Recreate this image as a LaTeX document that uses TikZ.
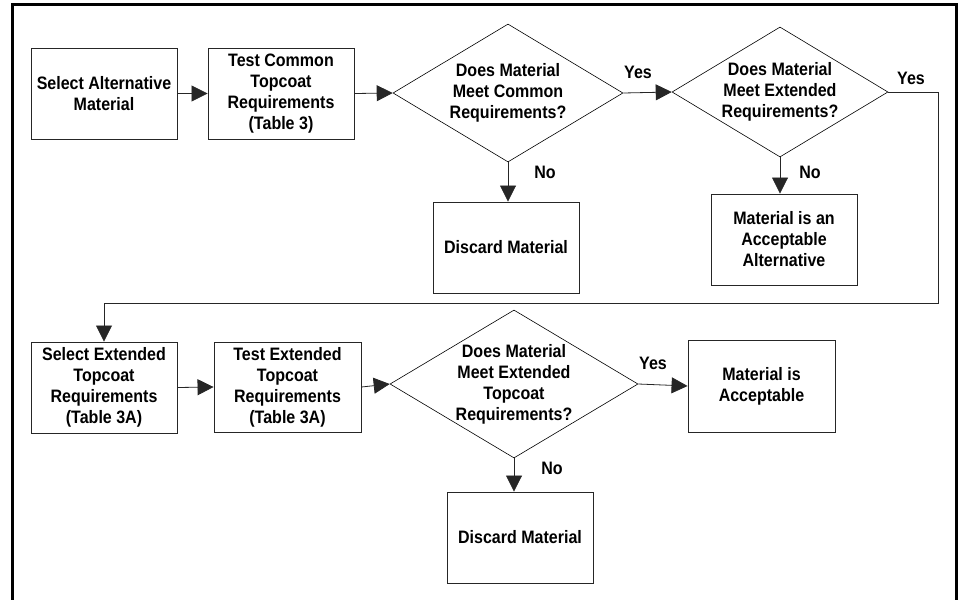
\documentclass[tikz,border=0pt]{standalone}
\usepackage{fontspec}
\setmainfont{Liberation Sans}[FakeStretch=0.89]
\usetikzlibrary{shapes.geometric,arrows.meta}
\begin{document}
\begin{tikzpicture}[x=1pt,y=-1pt,
  every node/.style={font=\fontsize{18}{21}\selectfont\bfseries, text=black},
  box/.style={draw=black!85, line width=0.9pt, rectangle, inner sep=0pt, align=center},
  dtext/.style={align=center, inner sep=0pt},
  lbl/.style={inner sep=0pt},
  conn/.style={draw=black!85, line width=0.8pt, -{Triangle[length=16pt,width=16pt]}}]
\useasboundingbox (0,0) rectangle (960,599);
\draw[line width=3pt] (12,620) -- (12,5) -- (956,5) -- (956,620);
% row 1
\node[box, minimum width=146, minimum height=91] (b1) at (104,93.5) {Select Alternative\\Material};
\node[box, minimum width=146, minimum height=91] (b2) at (281,93.5) {Test Common\\Topcoat\\Requirements\\(Table 3)};
\node[draw=black, line width=0.6pt, diamond, inner sep=0pt, minimum width=230, minimum height=138, shape aspect=1.667] (d1) at (508,93) {};
\node[dtext] (d1t) at (d1.center) {Does Material\\Meet Common\\Requirements?};
\node[draw=black, line width=0.6pt, diamond, inner sep=0pt, minimum width=216, minimum height=130, shape aspect=1.66] (d2) at (780,92) {};
\node[dtext] (d2t) at (d2.center) {Does Material\\Meet Extended\\Requirements?};
\node[box, minimum width=146, minimum height=91] (x1) at (506,247.5) {Discard Material};
\node[box, minimum width=146, minimum height=91] (a1) at (784,239.5) {Material is an\\Acceptable\\Alternative};
% row 2
\node[box, minimum width=146, minimum height=91] (s2) at (104,387.5) {Select Extended\\Topcoat\\Requirements\\(Table 3A)};
\node[box, minimum width=147, minimum height=90] (t2) at (287.5,387) {Test Extended\\Topcoat\\Requirements\\(Table 3A)};
\node[draw=black, line width=0.6pt, diamond, inner sep=0pt, minimum width=248, minimum height=148, shape aspect=1.676] (d3) at (514,384) {};
\node[dtext] (d3t) at (d3.center) {Does Material\\Meet Extended\\Topcoat\\Requirements?};
\node[box, minimum width=147, minimum height=92] (m2) at (761.5,386) {Material is\\Acceptable};
\node[box, minimum width=146, minimum height=91] (x2) at (520,537.5) {Discard Material};
% labels
\node[lbl] (y1) at (638,72) {Yes};
\node[lbl] (y2) at (911,78) {Yes};
\node[lbl] (n1) at (545,172) {No};
\node[lbl] (n2) at (810,172) {No};
\node[lbl] (y3) at (653,363) {Yes};
\node[lbl] (n3) at (552,468) {No};
% connectors
\draw[conn] (b1.east) -- (b2.west);
\draw[conn] (b2.east) -- (d1.west);
\draw[conn] (d1.east) -- (d2.west);
\draw[conn] (d1.south) -- (d1.south |- x1.north);
\draw[conn] (d2.south) -- (d2.south |- a1.north);
\coordinate (c1) at (938,303);
\draw[conn] (d2.east) -| (c1) -| (s2.north);
\draw[conn] (s2.east) -- (t2.west);
\draw[conn] (t2.east) -- (d3.west);
\draw[conn] (d3.east) -- (m2.west);
\draw[conn] (d3.south) -- (d3.south |- x2.north);
\end{tikzpicture}
\end{document}
